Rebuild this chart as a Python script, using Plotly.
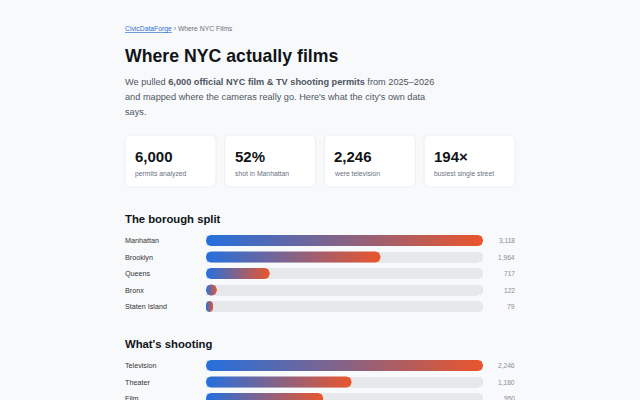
import numpy as np
import plotly.graph_objects as go

W, H = 640, 400

# ---------------- data ----------------
breadcrumb_site = "CivicDataForge"
breadcrumb_page = "Where NYC Films"
title_text = "Where NYC actually films"

stat_values = ["6,000", "52%", "2,246", "194×"]
stat_labels = ["permits analyzed", "shot in Manhattan", "were television", "busiest single street"]

borough_names = ["Manhattan", "Brooklyn", "Queens", "Bronx", "Staten Island"]
borough_counts = [3118, 1964, 717, 122, 79]

type_names = ["Television", "Theater", "Film"]
type_counts = [2246, 1180, 950]

# ---------------- style ----------------
FONT = "Liberation Sans, Arial, Helvetica, sans-serif"
BG = "#f7f9fb"
BLUE = "#2470de"
ORANGE = "#ea552c"
TRACK = "#e6e8ec"
INK = "#111418"
BODY = "#4f5661"
MUTED = "#6b7280"
LABEL = "#333333"
VALUE = "#8a8d92"

BAR_X0, BAR_X1 = 206, 483
ROW = 16.5
HALF_H = 5.5
RADIUS = 5
PAD = 2  # annotation inner padding in px


def px(x):
    return x / W


def py(y):
    return 1 - y / H


annotations = []
shapes = []


def add_text(x, y, text, size, color, xanchor="left"):
    shift = -PAD if xanchor == "left" else PAD
    annotations.append(dict(
        x=px(x + shift), y=py(y), xref="paper", yref="paper", text=text, showarrow=False,
        xanchor=xanchor, yanchor="middle", align="left",
        font=dict(family=FONT, size=size, color=color),
    ))


# breadcrumb, title, intro
add_text(125, 29.5,
         f"<span style='color:#2f6fd3;text-decoration:underline'>{breadcrumb_site}</span>"
         f"<span style='color:#6b7280'> › {breadcrumb_page}</span>", 6.8, MUTED)
add_text(125, 55.5, f"<b>{title_text}</b>", 17.7, INK)
intro_lines = [
    "We pulled <b>6,000 official NYC film &amp; TV shooting permits</b> from 2025–2026",
    "and mapped where the cameras really go. Here's what the city's own data",
    "says.",
]
for i, line in enumerate(intro_lines):
    add_text(125, 82 + 15 * i, line, 9.2, BODY)


# stat cards
def rounded_rect_path(x0, y0, x1, y1, r):
    X = lambda v: px(v)
    Y = lambda v: py(v)
    return (f"M{X(x0 + r)},{Y(y0)} L{X(x1 - r)},{Y(y0)} Q{X(x1)},{Y(y0)} {X(x1)},{Y(y0 + r)} "
            f"L{X(x1)},{Y(y1 - r)} Q{X(x1)},{Y(y1)} {X(x1 - r)},{Y(y1)} "
            f"L{X(x0 + r)},{Y(y1)} Q{X(x0)},{Y(y1)} {X(x0)},{Y(y1 - r)} "
            f"L{X(x0)},{Y(y0 + r)} Q{X(x0)},{Y(y0)} {X(x0 + r)},{Y(y0)} Z")


card_w, card_gap = 91.0, 8.67
for i, (v, lab) in enumerate(zip(stat_values, stat_labels)):
    x0 = 125 + i * (card_w + card_gap)
    shapes.append(dict(type="path", xref="paper", yref="paper",
                       path=rounded_rect_path(x0, 135, x0 + card_w, 187, 6),
                       fillcolor="#ffffff", line=dict(color="#eceef1", width=1), layer="below"))
    add_text(x0 + 10, 156, f"<b>{v}</b>", 15, INK)
    add_text(x0 + 10, 173.5, lab, 6.8, MUTED)

# section headings
add_text(125, 218.5, "<b>The borough split</b>", 11.3, INK)
add_text(125, 343.5, "<b>What's shooting</b>", 11.3, INK)


def rounded_bar(value, row, units_per_px):
    w = value / units_per_px
    r = min(RADIUS, w / 2, HALF_H)
    centers = [(r, -HALF_H + r, 180, 270), (w - r, -HALF_H + r, 270, 360),
               (w - r, HALF_H - r, 0, 90), (r, HALF_H - r, 90, 180)]
    xs, ys = [], []
    for cx, cy, a0, a1 in centers:
        for a in np.linspace(np.radians(a0), np.radians(a1), 8):
            xs.append((cx + r * np.cos(a)) * units_per_px)
            ys.append(row + (cy + r * np.sin(a)) / ROW)
    xs.append(xs[0])
    ys.append(ys[0])
    return xs, ys


fig = go.Figure()


def add_chart(names, counts, xa, ya):
    vmax = max(counts)
    upp = vmax / (BAR_X1 - BAR_X0)
    rows = list(range(len(names)))
    fig.add_trace(go.Bar(
        x=[vmax] * len(names), y=rows, orientation="h", width=2 * HALF_H / ROW,
        marker=dict(color=TRACK, cornerradius=RADIUS, line=dict(width=0)),
        xaxis=xa, yaxis=ya, hoverinfo="skip", showlegend=False))
    for r, (n, c) in enumerate(zip(names, counts)):
        xs, ys = rounded_bar(c, r, upp)
        fig.add_trace(go.Scatter(
            x=xs, y=ys, mode="lines", fill="toself", line=dict(width=0, color="rgba(0,0,0,0)"),
            fillgradient=dict(type="horizontal", colorscale=[[0, BLUE], [1, ORANGE]]),
            xaxis=xa, yaxis=ya, hoverinfo="skip", showlegend=False))
        annotations.append(dict(x=px(125 - PAD), y=r, xref="paper", yref=ya, text=n, showarrow=False,
                                xanchor="left", yanchor="middle",
                                font=dict(family=FONT, size=7.2, color=LABEL)))
        annotations.append(dict(x=px(515 + PAD), y=r, xref="paper", yref=ya, text=f"{c:,}", showarrow=False,
                                xanchor="right", yanchor="middle",
                                font=dict(family=FONT, size=6.6, color=VALUE)))
    return vmax


bmax = add_chart(borough_names, borough_counts, "x2", "y2")
tmax = add_chart(type_names, type_counts, "x3", "y3")

b_top = 240.5 - ROW / 2
b_bot = b_top + ROW * len(borough_names)
t_top = 365.5 - ROW / 2
t_rows_visible = (H - t_top) / ROW

axis_off = dict(visible=False, showgrid=False, zeroline=False, fixedrange=True)
fig.update_layout(
    width=W, height=H,
    margin=dict(l=0, r=0, t=0, b=0, pad=0),
    paper_bgcolor=BG, plot_bgcolor="rgba(0,0,0,0)",
    showlegend=False,
    xaxis=dict(axis_off, domain=[0, 1], range=[0, 1]),
    yaxis=dict(axis_off, domain=[0, 1], range=[0, 1]),
    xaxis2=dict(axis_off, domain=[px(BAR_X0), px(BAR_X1)], range=[0, bmax], anchor="y2"),
    yaxis2=dict(axis_off, domain=[py(b_bot), py(b_top)], range=[len(borough_names) - 0.5, -0.5], anchor="x2"),
    xaxis3=dict(axis_off, domain=[px(BAR_X0), px(BAR_X1)], range=[0, tmax], anchor="y3"),
    yaxis3=dict(axis_off, domain=[0, py(t_top)], range=[-0.5 + t_rows_visible, -0.5], anchor="x3"),
    annotations=annotations,
    shapes=shapes,
    bargap=0,
)

fig.write_html("out.html", config={"displayModeBar": False, "staticPlot": True})
